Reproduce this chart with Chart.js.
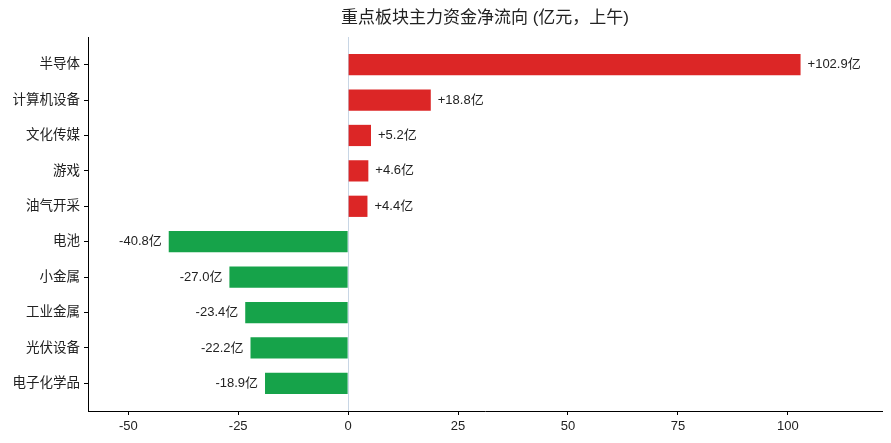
<!DOCTYPE html>
<html>
<head>
<meta charset="utf-8">
<script src="https://cdn.jsdelivr.net/npm/chart.js@4/dist/chart.umd.min.js"></script>
<style>
  html, body { margin: 0; padding: 0; background: #fff; }
  #wrap { width: 891px; height: 443px; }
</style>
</head>
<body>
<div id="wrap"><canvas id="flow"></canvas></div>
<script>
// 板块 and net main-capital flow (亿元, morning session)
const sectors = ["半导体", "计算机设备", "文化传媒", "游戏", "油气开采", "电池", "小金属", "工业金属", "光伏设备", "电子化学品"];
const netFlow = [102.9, 18.8, 5.2, 4.6, 4.4, -40.8, -27.0, -23.4, -22.2, -18.9];
const xTicks = [-50, -25, 0, 25, 50, 75, 100];
const titleText = "重点板块主力资金净流向 (亿元，上午)";

const UP = "#dc2626";
const DOWN = "#16a34a";
const FONT = "'Liberation Sans', Arial, 'Noto Sans CJK SC', sans-serif";
const NARROW = "'Liberation Sans Narrow', 'Liberation Sans', sans-serif";

const fmt = v => (v > 0 ? "+" : "") + v.toFixed(1) + "亿";

// title centred over the plot area, like the reference
const titlePlugin = {
  id: "plotTitle",
  afterDraw(chart) {
    const { ctx, chartArea } = chart;
    ctx.save();
    ctx.font = "17px " + FONT;
    ctx.fillStyle = "#222";
    ctx.textAlign = "center";
    ctx.textBaseline = "middle";
    ctx.fillText(titleText, (chartArea.left + chartArea.right) / 2, 18);
    ctx.restore();
  }
};

// value labels at the bar ends
const labelPlugin = {
  id: "barLabels",
  afterDatasetsDraw(chart) {
    const { ctx, scales } = chart;
    ctx.save();
    ctx.font = "13px " + FONT;
    ctx.fillStyle = "#222";
    ctx.textBaseline = "middle";
    netFlow.forEach((v, i) => {
      const px = scales.x.getPixelForValue(v);
      const py = scales.y.getPixelForValue(i);
      if (v >= 0) {
        ctx.textAlign = "left";
        ctx.fillText(fmt(v), px + 7, py);
      } else {
        ctx.textAlign = "right";
        ctx.fillText(fmt(v), px - 7, py);
      }
    });
    ctx.restore();
  }
};

const lo = Math.min(...netFlow), hi = Math.max(...netFlow);

new Chart(document.getElementById("flow"), {
  type: "bar",
  data: {
    datasets: [{
      data: netFlow.map((v, i) => ({ x: v, y: i })),
      backgroundColor: netFlow.map(v => v >= 0 ? UP : DOWN),
      borderWidth: 0,
      categoryPercentage: 1,
      barPercentage: 0.6
    }]
  },
  options: {
    indexAxis: "y",
    responsive: true,
    maintainAspectRatio: false,
    animation: false,
    layout: { padding: { top: 37, right: 9, left: 0, bottom: 0 } },
    plugins: { legend: { display: false }, tooltip: { enabled: false } },
    scales: {
      x: {
        type: "linear",
        min: lo * 1.45,
        max: hi * 1.18,
        afterBuildTicks: s => { s.ticks = xTicks.map(v => ({ value: v })); },
        ticks: { font: { size: 13, family: NARROW }, color: "#222", padding: 4, maxRotation: 0 },
        grid: {
          color: c => c.tick && c.tick.value === 0 ? "#c8d6e5" : "rgba(0,0,0,0)",
          lineWidth: 1,
          drawTicks: true,
          tickColor: "#000",
          tickLength: 4
        },
        border: { color: "#000", width: 1 },
        afterFit: s => { s.height = 32; }
      },
      y: {
        type: "linear",
        reverse: true,
        offset: false,
        min: -0.78,
        max: sectors.length - 1 + 0.78,
        afterBuildTicks: s => { s.ticks = sectors.map((c, i) => ({ value: i })); },
        ticks: {
          font: { size: 13.5, family: FONT },
          color: "#222",
          padding: 4,
          callback: v => sectors[v]
        },
        grid: { display: true, offset: false, drawOnChartArea: false, tickColor: "#000", tickLength: 4 },
        border: { color: "#000", width: 1 },
        afterFit: s => { s.width = 88; }
      }
    }
  },
  plugins: [titlePlugin, labelPlugin]
});
</script>
</body>
</html>
